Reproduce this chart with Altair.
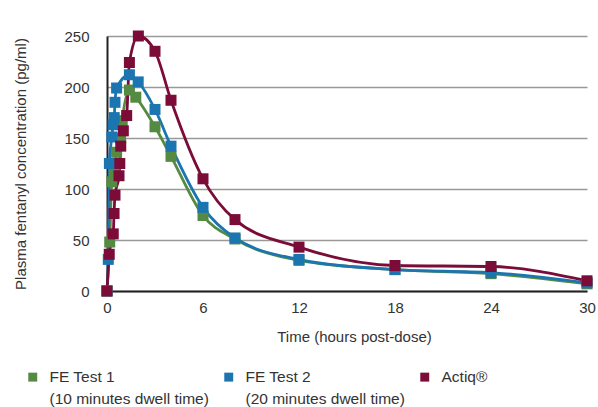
import altair as alt
import pandas as pd

# Series data (hours post-dose, pg/ml)
fe1_time = [0, 0.17, 0.3, 0.45, 0.6, 0.85, 0.95, 1.4, 1.8, 3, 4, 6, 8, 12, 18, 24, 30]
fe1_conc = [0, 48, 107, 117, 136, 150, 167, 197, 190, 161, 132, 74, 51, 30, 21, 17, 7]

fe2_time = [0, 0.08, 0.15, 0.3, 0.38, 0.45, 0.5, 0.6, 1.4, 1.95, 3, 4, 6, 8, 12, 18, 24, 30]
fe2_conc = [0, 31, 125, 151, 163, 170, 185, 199, 212, 205, 178, 142, 82, 52, 31, 21, 18, 8]

actiq_time = [0, 0.14, 0.39, 0.44, 0.5, 0.75, 0.8, 0.86, 1.02, 1.23, 1.4, 1.96, 3, 4, 6, 8, 12, 18, 24, 30]
actiq_conc = [0, 36, 56, 76, 94, 113, 125, 142, 157, 172, 224, 250, 235, 187, 110, 70, 43, 25, 24, 10]

series_names = ["FE Test 1|(10 minutes dwell time)",
                "FE Test 2|(20 minutes dwell time)",
                "Actiq®| "]
series_colors = ["#548A42", "#1B75B1", "#7B0B37"]

x_ticks = [0, 6, 12, 18, 24, 30]
y_ticks = [0, 50, 100, 150, 200, 250]

rows = []
for name, ts, vs in zip(series_names, [fe1_time, fe2_time, actiq_time],
                        [fe1_conc, fe2_conc, actiq_conc]):
    for i, (t, v) in enumerate(zip(ts, vs)):
        rows.append({"series": name, "time": t, "conc": v, "idx": i})
df = pd.DataFrame(rows)

FONT = "Liberation Sans"
TEXT = "#333333"

color = alt.Color(
    "series:N",
    scale=alt.Scale(domain=series_names, range=series_colors),
    legend=alt.Legend(
        title=None,
        orient="none",
        legendX=-82,
        legendY=333,
        direction="horizontal",
        columns=3,
        columnPadding=12,
        symbolType="square",
        symbolSize=80,
        symbolStrokeWidth=0,
        symbolOpacity=1,
        labelOffset=9,
        labelFont=FONT,
        labelFontSize=15.5,
        labelColor=TEXT,
        labelBaseline="middle",
        labelLimit=300,
        labelExpr="split(datum.label, '|')",
        padding=0,
    ),
)

x = alt.X("time:Q",
          scale=alt.Scale(domain=[0, 30], nice=False),
          axis=alt.Axis(values=x_ticks, title="Time (hours post-dose)", grid=False,
                        labelFlush=False, labelPadding=9, titlePadding=14,
                        titleX=247))
y = alt.Y("conc:Q",
          scale=alt.Scale(domain=[0, 250], nice=False),
          axis=alt.Axis(values=y_ticks, title="Plasma fentanyl concentration (pg/ml)",
                        grid=True, labelPadding=18, titlePadding=35))

base = alt.Chart(df)
lines = base.mark_line(interpolate="monotone", strokeWidth=2.8).encode(
    x=x, y=y, color=color, order="idx:Q",
    detail="series:N")
points = base.mark_point(shape="square", filled=True, size=121, opacity=1).encode(
    x=x, y=y, color=color)

chart = alt.layer(lines, points).properties(
    width=480, height=255,
    autosize=alt.AutoSizeParams(type="none"),
    padding={"left": 107, "top": 36, "right": 11, "bottom": 116},
).configure(
    style={"guide-label": {"lineHeight": 22}}
).configure_view(stroke=None).configure_axis(
    domainColor="#222222", domainWidth=2,
    gridColor="#999999", gridWidth=1.5,
    ticks=False,
    labelFont=FONT, labelFontSize=15, labelColor=TEXT,
    titleFont=FONT, titleFontSize=15, titleColor=TEXT, titleFontWeight="normal",
)

chart.save("out.html", embed_options={"renderer": "svg", "actions": False})
